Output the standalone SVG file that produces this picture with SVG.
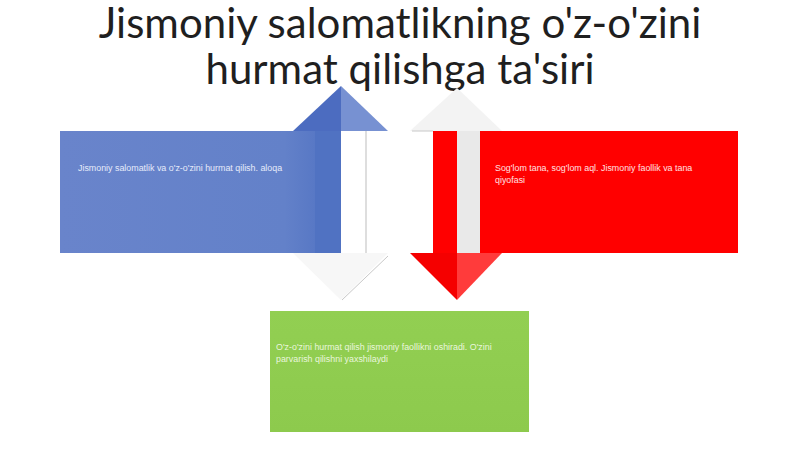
<svg xmlns="http://www.w3.org/2000/svg" width="800" height="449" viewBox="0 0 800 449">
<defs>
<style>
.title{font-family:Lato,"Liberation Sans",sans-serif;font-size:42px;fill:#1f1f1f;text-anchor:middle}
.lbl{font-family:"Liberation Sans",Arial,sans-serif;font-size:8.9px}
</style>
<linearGradient id="gBlue" x1="0" y1="0" x2="1" y2="0">
<stop offset="0" stop-color="#6984CB"/><stop offset="0.88" stop-color="#6381C9"/><stop offset="1" stop-color="#5878C5"/>
</linearGradient>
<linearGradient id="gGreen" x1="0" y1="0" x2="0" y2="1">
<stop offset="0" stop-color="#92CF52"/><stop offset="1" stop-color="#8DCA4D"/>
</linearGradient>
</defs>
<rect width="800" height="449" fill="#ffffff"/>
<g id="title">
<text class="title" x="400" y="38">Jismoniy salomatlikning o'z-o'zini</text>
<text class="title" x="400" y="84">hurmat qilishga ta'siri</text>
</g>
<g id="connectors">
<g id="arrow-up">
<polygon points="293,253 341,300 388,253" fill="#f7f7f7"/>
<line x1="388" y1="256" x2="342" y2="300" stroke="#c8c8c8" stroke-width="1"/>
<rect x="341" y="131" width="25" height="122" fill="#ffffff"/>
<line x1="366" y1="131" x2="366" y2="253" stroke="#bdbdbd" stroke-width="1"/>
<rect x="315" y="131" width="26" height="122" fill="#5072C2"/>
<polygon points="293,131 341,86 341,131" fill="#4C6CC0"/>
<polygon points="341,86 388,131 341,131" fill="#7791D2"/>
</g>
<g id="arrow-down">
<polygon points="410,131 457,88 502,131" fill="#f3f3f3"/>
<line x1="412" y1="131" x2="433" y2="131" stroke="#c8c8c8" stroke-width="1"/>
<rect x="457" y="131" width="23" height="122" fill="#e9e9e9"/>
<rect x="433" y="131" width="24" height="122" fill="#FF0000"/>
<polygon points="410,253 457,253 457,300" fill="#F50000"/>
<polygon points="457,253 502,253 457,300" fill="#FF3B3B"/>
</g>
</g>
<g id="node-blue">
<rect x="60" y="131" width="255" height="122" fill="url(#gBlue)"/>
<text class="lbl" x="78" y="171" fill="#E6EBFA">Jismoniy salomatlik va o'z-o'zini hurmat qilish. aloqa</text>
</g>
<g id="node-red">
<rect x="480" y="131" width="258" height="122" fill="#FF0000"/>
<text class="lbl" x="495" y="171" fill="#FFE0E0">Sog'lom tana, sog'lom aql. Jismoniy faollik va tana</text>
<text class="lbl" x="495" y="183" fill="#FFE0E0">qiyofasi</text>
</g>
<g id="node-green">
<rect x="270" y="311" width="259" height="121" fill="url(#gGreen)"/>
<text class="lbl" x="276" y="350" fill="#E9F6DC">O'z-o'zini hurmat qilish jismoniy faollikni oshiradi. O'zini</text>
<text class="lbl" x="276" y="362" fill="#E9F6DC">parvarish qilishni yaxshilaydi</text>
</g>
</svg>
